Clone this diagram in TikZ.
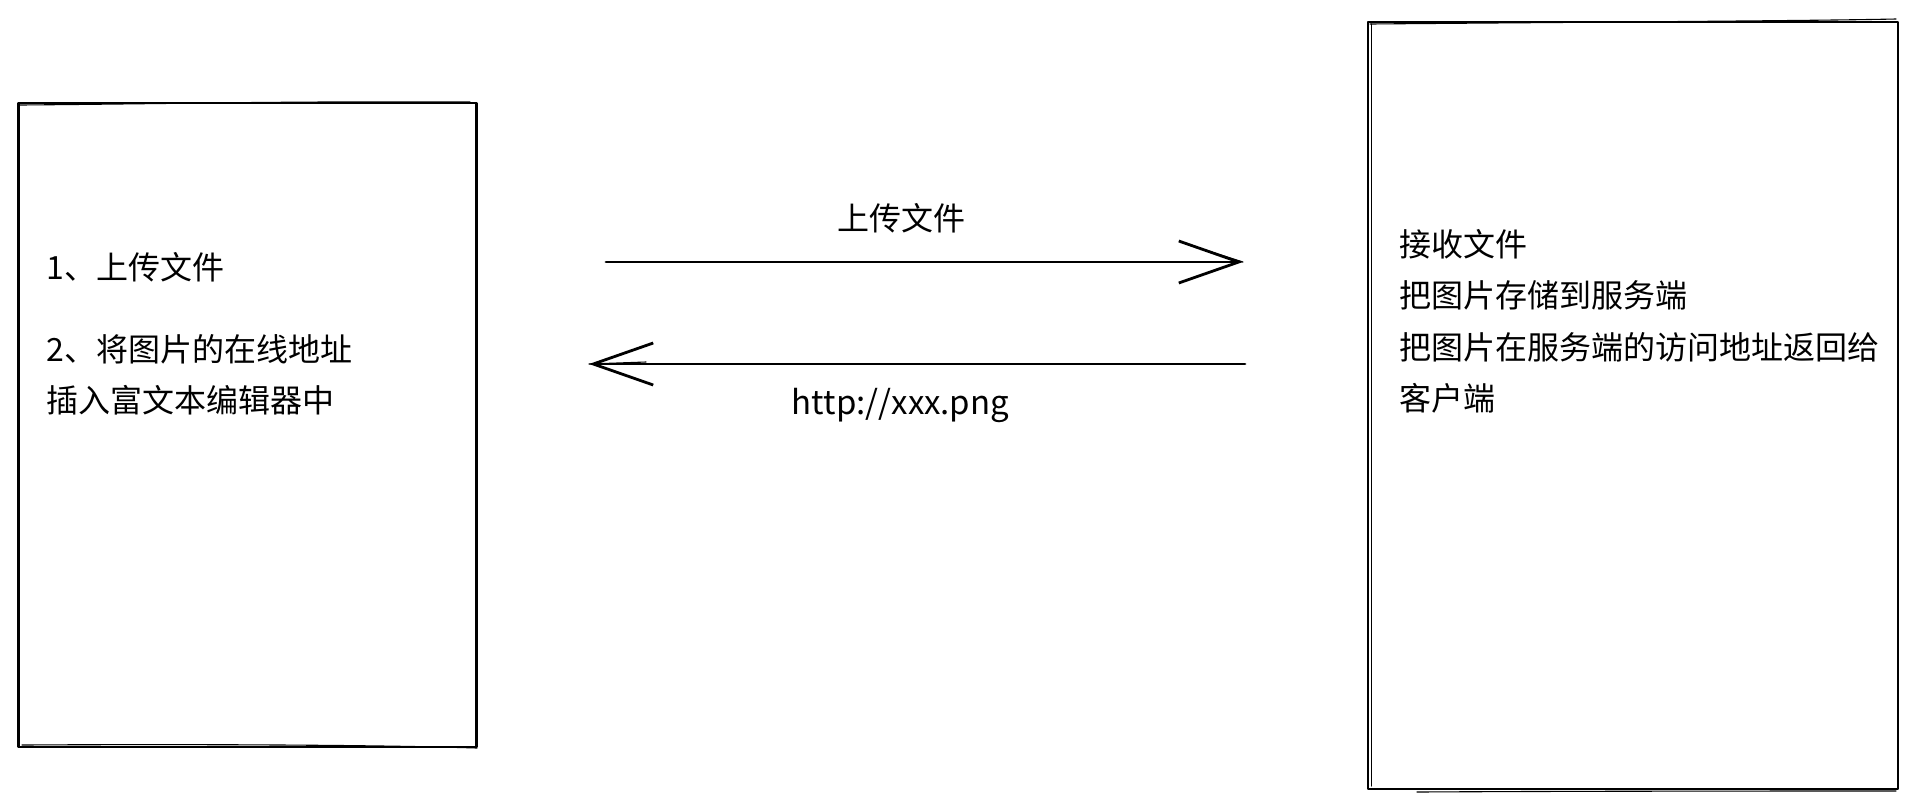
\documentclass[tikz,border=0pt]{standalone}
\usepackage{fontspec}
\setmainfont{Noto Sans CJK SC}
\usetikzlibrary{arrows.meta}
\tikzset{
  sk/.style={draw=black, line width=2.8pt, line join=round, line cap=round},
  skthin/.style={draw=black, line width=1.1pt, line cap=round},
  txt/.style={anchor=base west, inner sep=0pt, font=\fontsize{32}{38}\selectfont},
  lbl/.style={anchor=base, inner sep=0pt, font=\fontsize{32}{38}\selectfont},
  urlbl/.style={anchor=base, inner sep=0pt, font=\fontsize{33}{38}\selectfont},
  arr/.style={sk, -{Straight Barb[length=60pt, width=42pt, line width=2.8pt]}},
}
\begin{document}
\begin{tikzpicture}[x=1pt, y=-1pt]
\useasboundingbox (0,0) rectangle (1920,804);
\fill[white] (0,0) rectangle (1920,804);

% left box (client)
\node[sk, rectangle, minimum width=458pt, minimum height=644pt, inner sep=0pt] (lbox) at (247.5,425) {};
\draw[skthin] (20,105) .. controls (150,104) and (300,101) .. (470,102);
\draw[skthin] (22,745) .. controls (200,744) and (380,745) .. (477,748);

% right box (server)
\node[sk, rectangle, minimum width=530pt, minimum height=767pt, inner sep=0pt] (rbox) at (1633,405.5) {};
\draw[skthin] (1370,24) .. controls (1600,22) and (1800,21) .. (1896,19);
\draw[skthin] (1417,792) .. controls (1600,791) and (1800,791) .. (1896,791);
\draw[skthin] (1371.5,24) -- (1371.5,786);

% left texts
\node[txt] (l1) at (46.5,279) {1、上传文件};
\node[txt] (l2) at (46.5,361) {2、将图片的在线地址};
\node[txt] (l3) at (46.5,412) {插入富文本编辑器中};

% right texts
\node[txt] (r1) at (1399.5,256) {接收文件};
\node[txt] (r2) at (1399.5,307) {把图片存储到服务端};
\node[txt] (r3) at (1399.5,359) {把图片在服务端的访问地址返回给};
\node[txt] (r4) at (1399.5,410) {客户端};

% arrows
\coordinate (a1s) at (606,262);
\coordinate (a1e) at (1243,262);
\coordinate (a2s) at (1245,364);
\coordinate (a2e) at (589,364);
\draw[arr] (a1s) -- (a1e);
\draw[arr] (a2s) -- (a2e);
\draw[skthin] (a1e) -- ++(-60,-19);
\draw[skthin] (a2e) -- ++(57,-2);

\node[lbl] (up) at (901,230) {上传文件};
\node[urlbl] (url) at (900.5,414) {http://xxx.png};
\end{tikzpicture}
\end{document}
